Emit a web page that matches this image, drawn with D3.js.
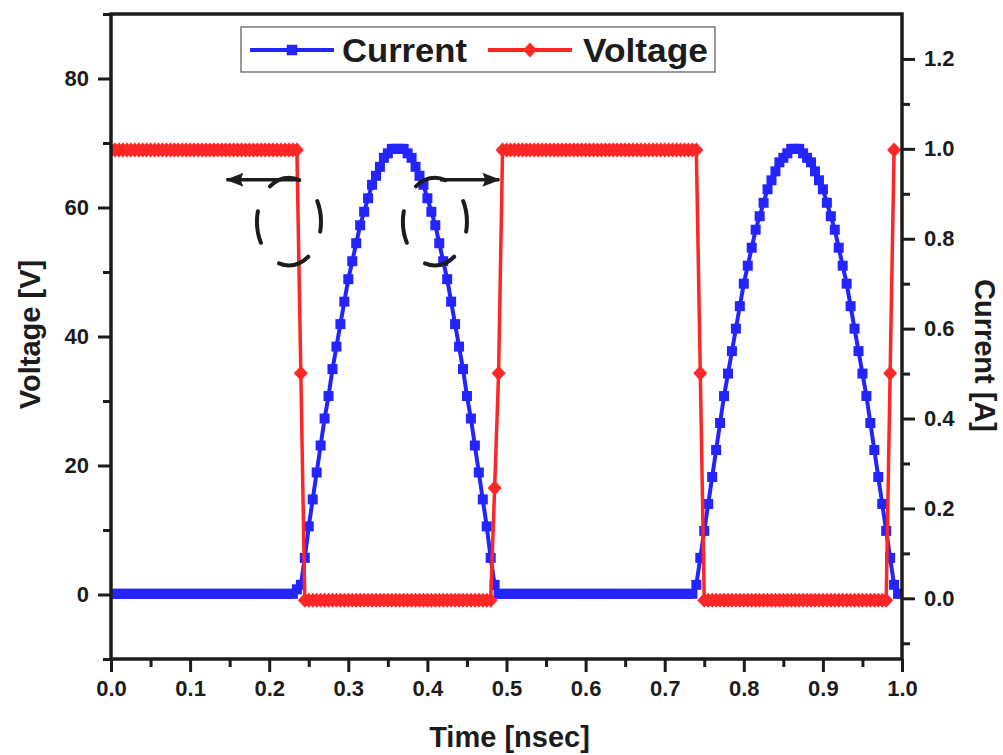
<!DOCTYPE html>
<html>
<head>
<meta charset="utf-8">
<script src="https://cdn.jsdelivr.net/npm/d3@7"></script>
<style>
  body { margin: 0; background: #fff; }
  svg { display: block; font-family: "Liberation Sans", Arial, sans-serif; font-weight: bold; }
</style>
</head>
<body>
<div id="chart"></div>
<script>
// sample times [nsec], one every 0.005
const time = [
  0.000, 0.005, 0.010, 0.015, 0.020, 0.025, 0.030, 0.035, 0.040, 0.045,
  0.050, 0.055, 0.060, 0.065, 0.070, 0.075, 0.080, 0.085, 0.090, 0.095,
  0.100, 0.105, 0.110, 0.115, 0.120, 0.125, 0.130, 0.135, 0.140, 0.145,
  0.150, 0.155, 0.160, 0.165, 0.170, 0.175, 0.180, 0.185, 0.190, 0.195,
  0.200, 0.205, 0.210, 0.215, 0.220, 0.225, 0.230, 0.235, 0.240, 0.245,
  0.250, 0.255, 0.260, 0.265, 0.270, 0.275, 0.280, 0.285, 0.290, 0.295,
  0.300, 0.305, 0.310, 0.315, 0.320, 0.325, 0.330, 0.335, 0.340, 0.345,
  0.350, 0.355, 0.360, 0.365, 0.370, 0.375, 0.380, 0.385, 0.390, 0.395,
  0.400, 0.405, 0.410, 0.415, 0.420, 0.425, 0.430, 0.435, 0.440, 0.445,
  0.450, 0.455, 0.460, 0.465, 0.470, 0.475, 0.480, 0.485, 0.490, 0.495,
  0.500, 0.505, 0.510, 0.515, 0.520, 0.525, 0.530, 0.535, 0.540, 0.545,
  0.550, 0.555, 0.560, 0.565, 0.570, 0.575, 0.580, 0.585, 0.590, 0.595,
  0.600, 0.605, 0.610, 0.615, 0.620, 0.625, 0.630, 0.635, 0.640, 0.645,
  0.650, 0.655, 0.660, 0.665, 0.670, 0.675, 0.680, 0.685, 0.690, 0.695,
  0.700, 0.705, 0.710, 0.715, 0.720, 0.725, 0.730, 0.735, 0.740, 0.745,
  0.750, 0.755, 0.760, 0.765, 0.770, 0.775, 0.780, 0.785, 0.790, 0.795,
  0.800, 0.805, 0.810, 0.815, 0.820, 0.825, 0.830, 0.835, 0.840, 0.845,
  0.850, 0.855, 0.860, 0.865, 0.870, 0.875, 0.880, 0.885, 0.890, 0.895,
  0.900, 0.905, 0.910, 0.915, 0.920, 0.925, 0.930, 0.935, 0.940, 0.945,
  0.950, 0.955, 0.960, 0.965, 0.970, 0.975, 0.980, 0.985, 0.990, 0.995,
  1.000
];

// current [A] (right axis)
const current = [
  // 0.000 - 0.230
  0.01, 0.01, 0.01, 0.01, 0.01, 0.01, 0.01, 0.01, 0.01, 0.01, 0.01, 0.01,
  0.01, 0.01, 0.01, 0.01, 0.01, 0.01, 0.01, 0.01, 0.01, 0.01, 0.01, 0.01,
  0.01, 0.01, 0.01, 0.01, 0.01, 0.01, 0.01, 0.01, 0.01, 0.01, 0.01, 0.01,
  0.01, 0.01, 0.01, 0.01, 0.01, 0.01, 0.01, 0.01, 0.01, 0.01, 0.01,
  // 0.235
  0.02,
  // 0.240 - 0.485
  0.03, 0.09, 0.16, 0.22, 0.28, 0.34, 0.40, 0.45, 0.51, 0.56,
  0.61, 0.66, 0.71, 0.75, 0.79, 0.83, 0.86, 0.89, 0.92, 0.94,
  0.96, 0.98, 0.99, 1.00, 1.00, 1.00, 1.00, 0.99, 0.98, 0.96,
  0.94, 0.92, 0.89, 0.86, 0.83, 0.79, 0.75, 0.71, 0.66, 0.61,
  0.56, 0.51, 0.45, 0.40, 0.34, 0.28, 0.22, 0.16, 0.09, 0.03,
  // 0.490 - 0.735
  0.01, 0.01, 0.01, 0.01, 0.01, 0.01, 0.01, 0.01, 0.01, 0.01, 0.01, 0.01,
  0.01, 0.01, 0.01, 0.01, 0.01, 0.01, 0.01, 0.01, 0.01, 0.01, 0.01, 0.01,
  0.01, 0.01, 0.01, 0.01, 0.01, 0.01, 0.01, 0.01, 0.01, 0.01, 0.01, 0.01,
  0.01, 0.01, 0.01, 0.01, 0.01, 0.01, 0.01, 0.01, 0.01, 0.01, 0.01, 0.01,
  0.01, 0.01,
  // 0.740 - 0.990
  0.03, 0.09, 0.15, 0.21, 0.27, 0.33, 0.39, 0.45, 0.50, 0.55,
  0.60, 0.65, 0.70, 0.74, 0.78, 0.82, 0.85, 0.88, 0.91, 0.93,
  0.95, 0.97, 0.98, 0.99, 1.00, 1.00, 1.00, 0.99, 0.98, 0.97,
  0.95, 0.93, 0.91, 0.88, 0.85, 0.82, 0.78, 0.74, 0.70, 0.65,
  0.60, 0.55, 0.50, 0.45, 0.39, 0.33, 0.27, 0.21, 0.15, 0.09,
  0.03,
  // 0.995 - 1.000
  0.01, 0.01
];

// voltage [V] (left axis), ends at 0.990
const voltage = [
  // 0.000 - 0.235
  68.9, 68.9, 68.9, 68.9, 68.9, 68.9, 68.9, 68.9, 68.9, 68.9, 68.9, 68.9,
  68.9, 68.9, 68.9, 68.9, 68.9, 68.9, 68.9, 68.9, 68.9, 68.9, 68.9, 68.9,
  68.9, 68.9, 68.9, 68.9, 68.9, 68.9, 68.9, 68.9, 68.9, 68.9, 68.9, 68.9,
  68.9, 68.9, 68.9, 68.9, 68.9, 68.9, 68.9, 68.9, 68.9, 68.9, 68.9, 68.9,
  // 0.240
  34.3,
  // 0.245 - 0.480
  -0.9, -0.9, -0.9, -0.9, -0.9, -0.9, -0.9, -0.9, -0.9, -0.9, -0.9, -0.9,
  -0.9, -0.9, -0.9, -0.9, -0.9, -0.9, -0.9, -0.9, -0.9, -0.9, -0.9, -0.9,
  -0.9, -0.9, -0.9, -0.9, -0.9, -0.9, -0.9, -0.9, -0.9, -0.9, -0.9, -0.9,
  -0.9, -0.9, -0.9, -0.9, -0.9, -0.9, -0.9, -0.9, -0.9, -0.9, -0.9, -0.9,
  // 0.485, 0.490
  16.5, 34.3,
  // 0.495 - 0.740
  68.9, 68.9, 68.9, 68.9, 68.9, 68.9, 68.9, 68.9, 68.9, 68.9, 68.9, 68.9,
  68.9, 68.9, 68.9, 68.9, 68.9, 68.9, 68.9, 68.9, 68.9, 68.9, 68.9, 68.9,
  68.9, 68.9, 68.9, 68.9, 68.9, 68.9, 68.9, 68.9, 68.9, 68.9, 68.9, 68.9,
  68.9, 68.9, 68.9, 68.9, 68.9, 68.9, 68.9, 68.9, 68.9, 68.9, 68.9, 68.9,
  68.9, 68.9,
  // 0.745
  34.3,
  // 0.750 - 0.980
  -0.9, -0.9, -0.9, -0.9, -0.9, -0.9, -0.9, -0.9, -0.9, -0.9, -0.9, -0.9,
  -0.9, -0.9, -0.9, -0.9, -0.9, -0.9, -0.9, -0.9, -0.9, -0.9, -0.9, -0.9,
  -0.9, -0.9, -0.9, -0.9, -0.9, -0.9, -0.9, -0.9, -0.9, -0.9, -0.9, -0.9,
  -0.9, -0.9, -0.9, -0.9, -0.9, -0.9, -0.9, -0.9, -0.9, -0.9, -0.9,
  // 0.985, 0.990
  34.3, 68.9
];

// tick labels
const timeTicks = [0.0, 0.1, 0.2, 0.3, 0.4, 0.5, 0.6, 0.7, 0.8, 0.9, 1.0];
const timeMinor = [0.05, 0.15, 0.25, 0.35, 0.45, 0.55, 0.65, 0.75, 0.85, 0.95];
const voltTicks = [0, 20, 40, 60, 80];
const voltMinor = [-10, 10, 30, 50, 70, 90];
const currTicks = [0.0, 0.2, 0.4, 0.6, 0.8, 1.0, 1.2];
const currMinor = [-0.1, 0.1, 0.3, 0.5, 0.7, 0.9, 1.1];

const seriesNames = ["Current", "Voltage"];

// dimensions
const margin = { top: 14, right: 101, bottom: 96, left: 111 },
    width = 1003 - margin.left - margin.right,
    height = 755 - margin.top - margin.bottom;

const blue = "#2424ff", red = "#ff2626", ink = "#1c1c1c";

// scales
const x = d3.scaleLinear().domain([0, 1]).range([0, width]);
const yV = d3.scaleLinear().domain([-10, 90]).range([height, 0]);
const yI = d3.scaleLinear().domain([-0.135, 1.3]).range([height, 0]);

const svgRoot = d3.select("#chart").append("svg")
    .attr("width", width + margin.left + margin.right)
    .attr("height", height + margin.top + margin.bottom);

const defs = svgRoot.append("defs");
defs.append("clipPath").attr("id", "plotClip")
    .append("rect").attr("x", 0).attr("y", 0).attr("width", width).attr("height", height);
defs.append("marker")
    .attr("id", "arrowHead")
    .attr("viewBox", "0 -8 18 16")
    .attr("refX", 17).attr("refY", 0)
    .attr("markerUnits", "userSpaceOnUse")
    .attr("markerWidth", 18).attr("markerHeight", 16)
    .attr("orient", "auto")
  .append("path")
    .attr("d", "M0,-7L18,0L0,7L3,0Z")
    .attr("fill", ink);

const svg = svgRoot.append("g")
    .attr("transform", "translate(" + margin.left + "," + margin.top + ")");

// data tables
const currentData = time.map((t, i) => ({ t: t, v: current[i] }));
const voltageData = voltage.map((v, i) => ({ t: time[i], v: v }));

const square = d3.symbol(d3.symbolSquare, 100)();
const diamond = "M0,-7.5L7,0L0,7.5L-7,0Z";

const plot = svg.append("g").attr("clip-path", "url(#plotClip)");

// current line + squares
plot.append("path")
    .datum(currentData)
    .attr("fill", "none")
    .attr("stroke", blue)
    .attr("stroke-width", 4)
    .attr("stroke-linejoin", "round")
    .attr("d", d3.line().x(d => x(d.t)).y(d => yI(d.v)));

plot.append("g").selectAll("path")
    .data(currentData)
  .enter().append("path")
    .attr("d", square)
    .attr("fill", blue)
    .attr("transform", d => "translate(" + x(d.t) + "," + yI(d.v) + ")");

// voltage line + diamonds
plot.append("path")
    .datum(voltageData)
    .attr("fill", "none")
    .attr("stroke", red)
    .attr("stroke-width", 3.5)
    .attr("stroke-linejoin", "round")
    .attr("d", d3.line().x(d => x(d.t)).y(d => yV(d.v)));

plot.append("g").selectAll("path")
    .data(voltageData)
  .enter().append("path")
    .attr("d", diamond)
    .attr("fill", red)
    .attr("transform", d => "translate(" + x(d.t) + "," + yV(d.v) + ")");

// dashed ellipses with arrows
const rx = x(0.0405) - x(0), ry = yV(0) - yV(6.8);
[0.225, 0.4095].forEach(c => {
    svg.append("ellipse")
        .attr("cx", x(c)).attr("cy", yV(57.8))
        .attr("rx", rx).attr("ry", ry)
        .attr("fill", "none")
        .attr("stroke", ink)
        .attr("stroke-width", 4)
        .attr("stroke-linecap", "round")
        .attr("stroke-dasharray", "32 28.1")
        .attr("stroke-dashoffset", 22);
});
[[0.235, 0.146], [0.416, 0.491]].forEach(a => {
    svg.append("line")
        .attr("x1", x(a[0])).attr("x2", x(a[1]))
        .attr("y1", yV(64.3)).attr("y2", yV(64.3))
        .attr("stroke", ink)
        .attr("stroke-width", 3.5)
        .attr("marker-end", "url(#arrowHead)");
});

// axes
function styleAxis(g) {
    g.select(".domain").remove();
    g.selectAll(".tick line").attr("stroke", ink).attr("stroke-width", 3);
    g.selectAll(".tick text")
        .attr("fill", ink)
        .style("font-size", "22px")
        .style("font-weight", "bold")
        .style("font-family", '"Liberation Sans", Arial, sans-serif');
}

svg.append("g")
    .attr("transform", "translate(0," + height + ")")
    .call(d3.axisBottom(x).tickValues(timeTicks).tickFormat(d3.format(".1f")).tickSize(13).tickPadding(8))
    .call(styleAxis);
svg.append("g")
    .attr("transform", "translate(0," + height + ")")
    .call(d3.axisBottom(x).tickValues(timeMinor).tickFormat("").tickSize(8))
    .call(styleAxis);

svg.append("g")
    .call(d3.axisLeft(yV).tickValues(voltTicks).tickFormat(d3.format("d")).tickSize(13).tickPadding(9))
    .call(styleAxis);
svg.append("g")
    .call(d3.axisLeft(yV).tickValues(voltMinor).tickFormat("").tickSize(8))
    .call(styleAxis);

svg.append("g")
    .attr("transform", "translate(" + width + ",0)")
    .call(d3.axisRight(yI).tickValues(currTicks).tickFormat(d3.format(".1f")).tickSize(13).tickPadding(9))
    .call(styleAxis);
svg.append("g")
    .attr("transform", "translate(" + width + ",0)")
    .call(d3.axisRight(yI).tickValues(currMinor).tickFormat("").tickSize(8))
    .call(styleAxis);

// frame
svg.append("rect")
    .attr("width", width).attr("height", height)
    .attr("fill", "none")
    .attr("stroke", ink)
    .attr("stroke-width", 3.5);

// axis titles
svg.append("text")
    .attr("transform", "translate(" + (-71) + "," + (height / 2 - 2) + ") rotate(-90)")
    .attr("text-anchor", "middle")
    .attr("fill", ink)
    .style("font-size", "29px")
    .text("Voltage [V]");

svg.append("text")
    .attr("transform", "translate(" + (width + 73) + "," + (height / 2 + 19) + ") rotate(90)")
    .attr("text-anchor", "middle")
    .attr("fill", ink)
    .style("font-size", "29px")
    .text("Current [A]");

svg.append("text")
    .attr("x", width / 2 + 3)
    .attr("y", height + 88)
    .attr("text-anchor", "middle")
    .attr("fill", ink)
    .style("font-size", "29px")
    .text("Time [nsec]");

// legend
const legend = svg.append("g").attr("transform", "translate(130,13)");
legend.append("rect")
    .attr("width", 474).attr("height", 45)
    .attr("fill", "#fff")
    .attr("stroke", "#666")
    .attr("stroke-width", 1.3);

const legendItems = [
    { name: seriesNames[0], color: blue, symbol: d3.symbol(d3.symbolSquare, 110)(), lx: 9, tx: 101 },
    { name: seriesNames[1], color: red, symbol: diamond, lx: 247, tx: 342 }
];
legendItems.forEach(it => {
    legend.append("line")
        .attr("x1", it.lx).attr("x2", it.lx + 84)
        .attr("y1", 23).attr("y2", 23)
        .attr("stroke", it.color).attr("stroke-width", 4);
    legend.append("path")
        .attr("d", it.symbol)
        .attr("fill", it.color)
        .attr("transform", "translate(" + (it.lx + 42) + ",23)");
    legend.append("text")
        .attr("x", it.tx).attr("y", 35)
        .attr("fill", ink)
        .attr("textLength", 125)
        .attr("lengthAdjust", "spacingAndGlyphs")
        .style("font-size", "33px")
        .text(it.name);
});
</script>
</body>
</html>
